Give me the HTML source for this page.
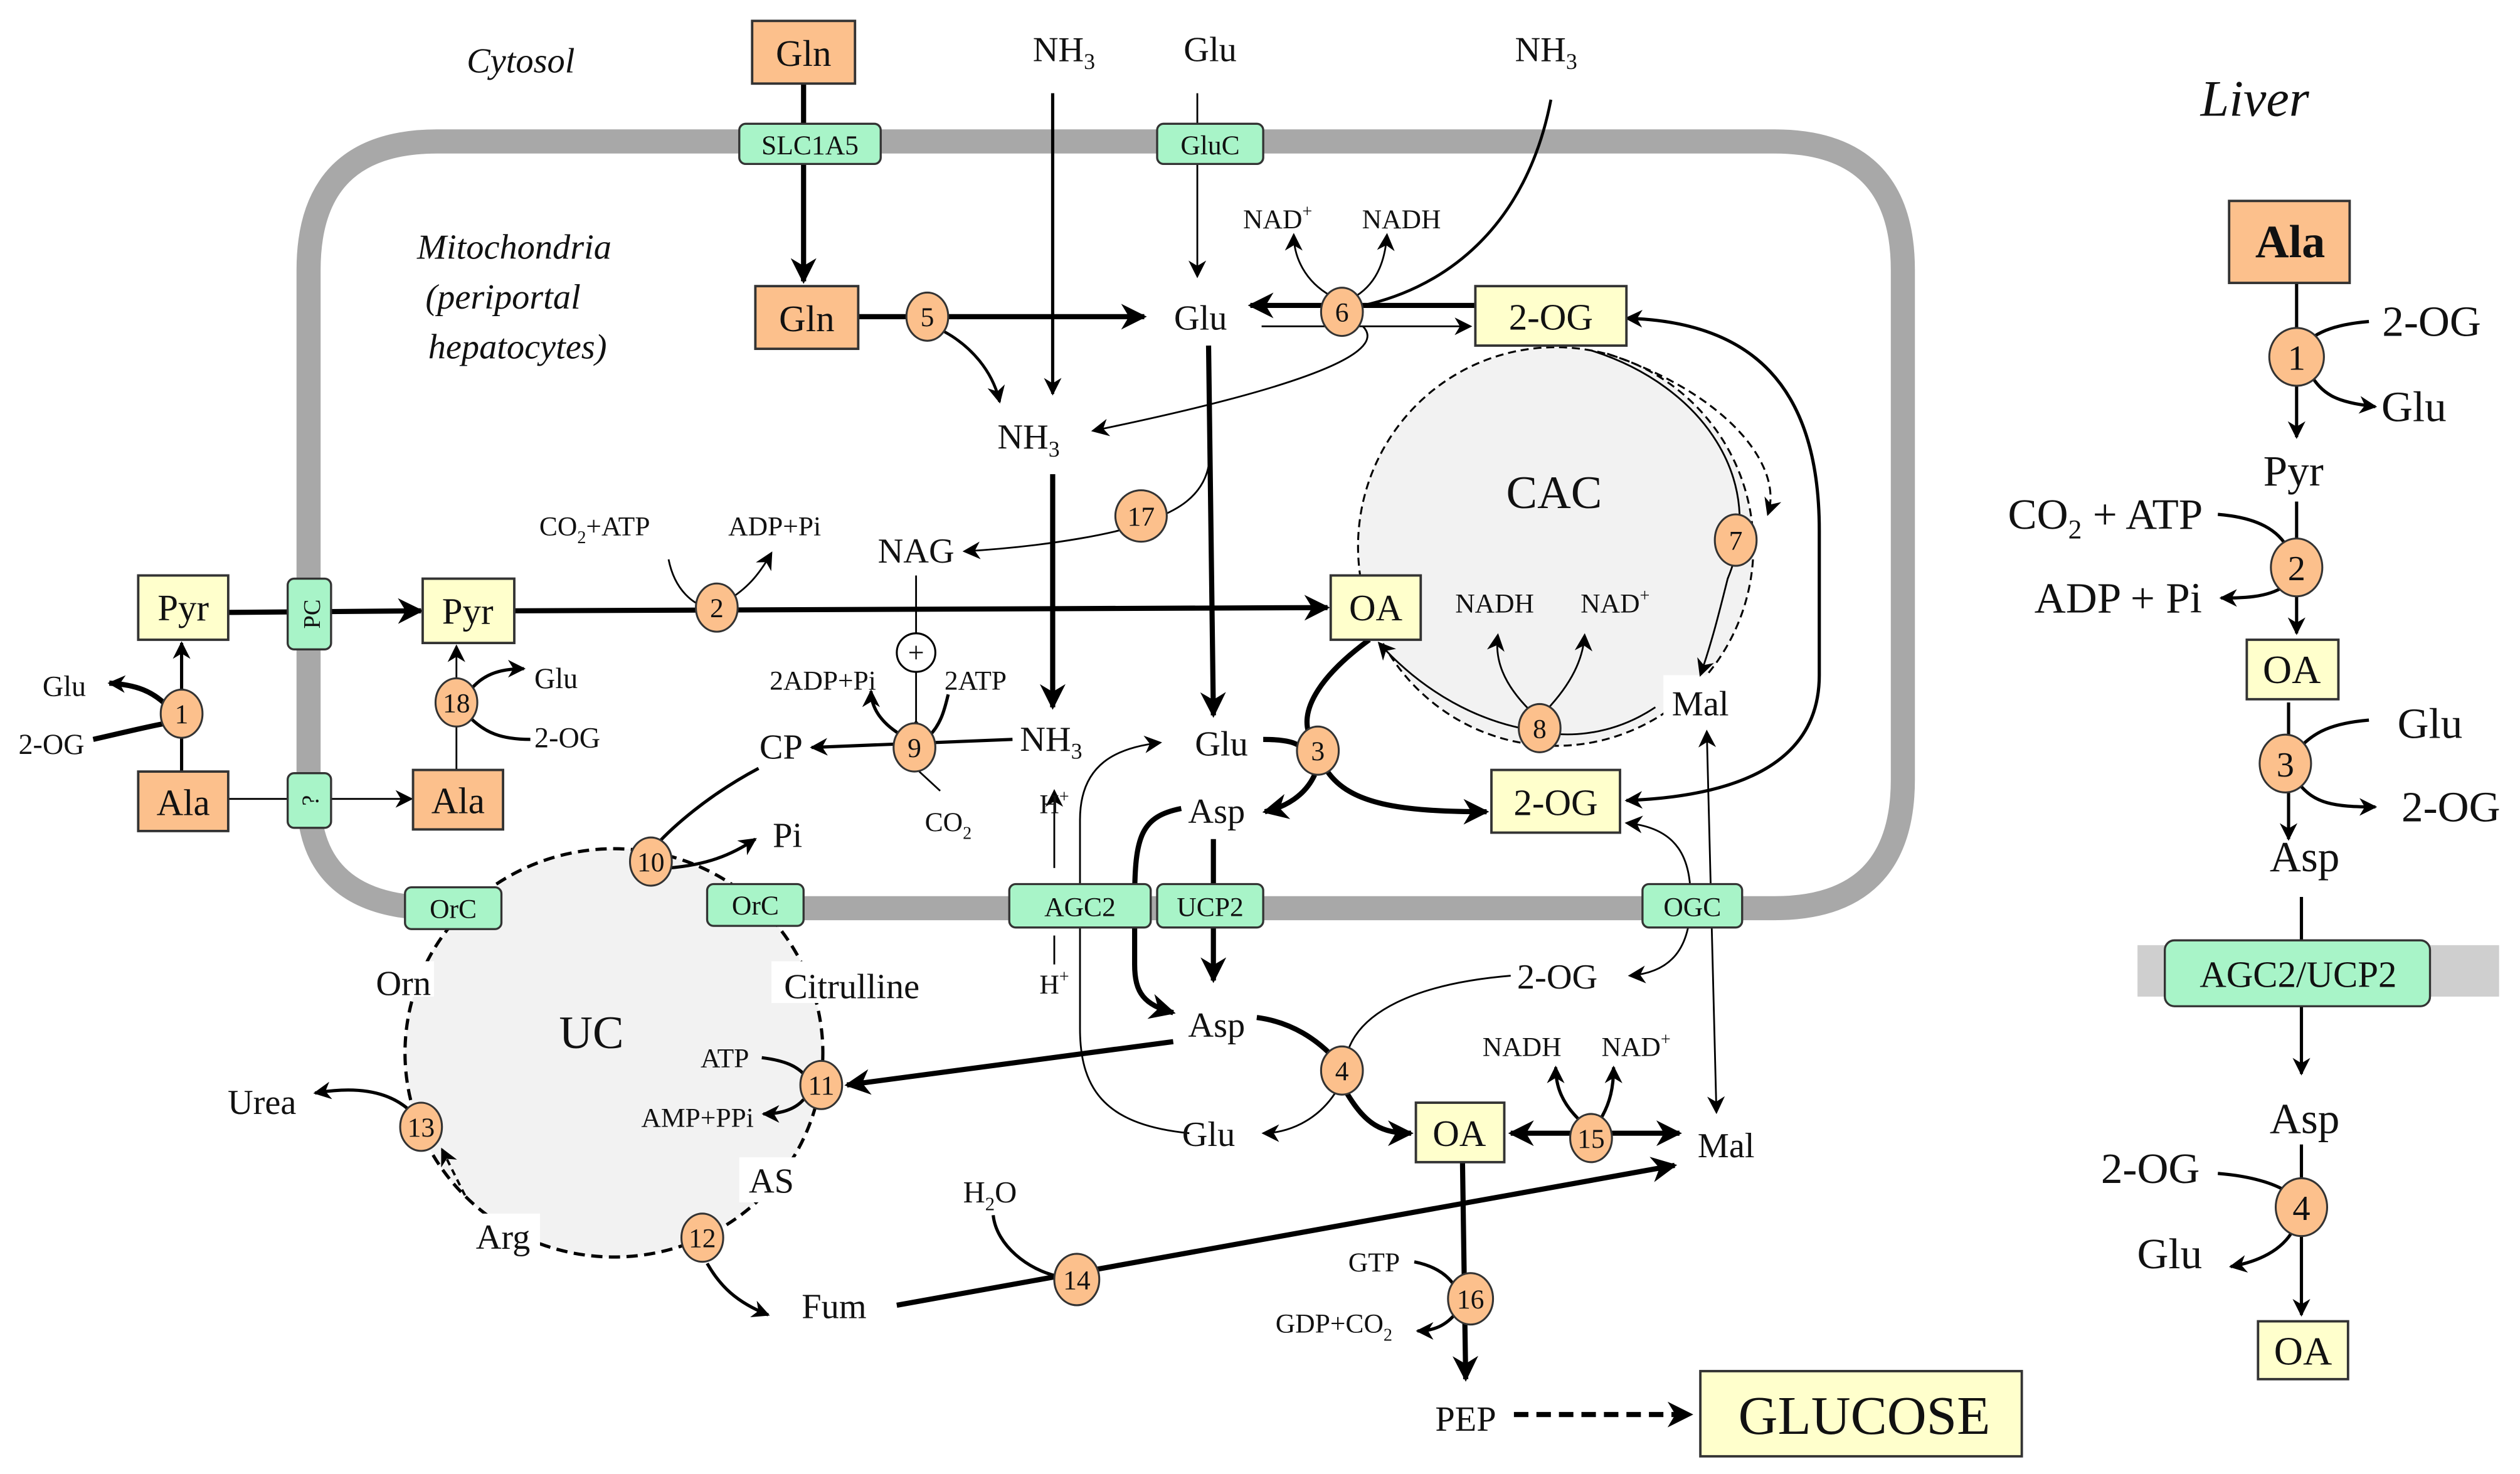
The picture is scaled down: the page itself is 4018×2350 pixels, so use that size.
<!DOCTYPE html>
<html><head><meta charset="utf-8">
<style>
html,body{margin:0;padding:0;background:#fff}
svg{display:block}
text{font-family:"Liberation Serif",serif;fill:#111}
.b{fill:#fcc08c;stroke:#333;stroke-width:1.5}
.y{fill:#ffffcc;stroke:#333;stroke-width:1.5}
.g{fill:#a8f4c8;stroke:#333;stroke-width:1.3}
.c{fill:#fcc08c;stroke:#333;stroke-width:1.2}
.k{fill:none;stroke:#000;stroke-width:3.2}
.m{fill:none;stroke:#000;stroke-width:2}
.n{fill:none;stroke:#000;stroke-width:1.1}
</style></head><body>
<svg width="4018" height="2350" viewBox="0 0 1568 917" preserveAspectRatio="none" xmlns="http://www.w3.org/2000/svg">
<defs>
<marker id="a" markerUnits="userSpaceOnUse" markerWidth="16" markerHeight="16" viewBox="0 0 10 10" refX="9" refY="5" orient="auto-start-reverse"><path d="M0,0 L10,5 L0,10 L3,5z" fill="#000"/></marker>
<marker id="t" markerUnits="userSpaceOnUse" markerWidth="11" markerHeight="11" viewBox="0 0 10 10" refX="9" refY="5" orient="auto-start-reverse"><path d="M0,0 L10,5 L0,10 L3,5z" fill="#000"/></marker>
</defs>

<!-- membrane -->
<path d="M192,495 L192,168 Q192,88 272,88 L1104,88 Q1184,88 1184,168 L1184,485 Q1184,565 1104,565 L272,565 Q192,565 192,495" fill="none" stroke="#a8a8a8" stroke-width="15"/>
<rect x="1330" y="588" width="225" height="32" fill="#cfcfcf"/>

<!-- cycles -->
<ellipse cx="968" cy="340" rx="123" ry="124" fill="#f2f2f2" stroke="#000" stroke-width="1.2" stroke-dasharray="5,3"/>
<ellipse cx="382" cy="655" rx="130" ry="127" fill="#f2f2f2" stroke="#000" stroke-width="2" stroke-dasharray="7,4"/>
<rect x="230" y="598" width="40" height="22" fill="#fff"/>
<rect x="480" y="598" width="100" height="26" fill="#fff"/>
<rect x="460" y="720" width="40" height="28" fill="#fff"/>
<rect x="292" y="755" width="44" height="28" fill="#fff"/>
<rect x="1035" y="420" width="50" height="32" fill="#fff"/>

<!-- CAC inner arcs -->
<path d="M990,218 C1060,240 1100,300 1075,360 C1070,380 1065,400 1058,420" class="n" marker-end="url(#t)"/>
<path d="M1000,220 C1075,245 1110,290 1100,320" fill="none" stroke="#000" stroke-width="1.2" stroke-dasharray="5,3" marker-end="url(#t)"/>
<path d="M1030,440 C1000,460 970,458 958,455 C920,450 885,430 858,400" class="n" marker-end="url(#t)"/>
<path d="M952,442 C935,425 930,410 932,395" class="n" marker-end="url(#t)"/>
<path d="M962,442 C978,425 985,410 986,395" class="n" marker-end="url(#t)"/>

<!-- top -->
<path d="M500,52 L500,175" class="k" marker-end="url(#a)"/>
<path d="M655,58 L655,245" class="m" marker-end="url(#t)"/>
<path d="M745,58 L745,172" class="n" marker-end="url(#t)"/>
<path d="M965,62 C950,140 900,182 838,192" fill="none" stroke="#000" stroke-width="1.8"/>
<path d="M918,190 L778,190" class="k" marker-end="url(#a)"/>
<path d="M785,203 L915,203" class="n" marker-end="url(#t)"/>
<path d="M828,184 C812,175 805,160 805,146" class="n" marker-end="url(#t)"/>
<path d="M844,184 C858,175 862,160 863,146" class="n" marker-end="url(#t)"/>
<path d="M848,203 C860,215 840,235 680,268" class="n" marker-end="url(#t)"/>
<path d="M534,197 L712,197" class="k" marker-end="url(#a)"/>
<path d="M585,205 C605,215 618,232 622,250" fill="none" stroke="#000" stroke-width="1.8" marker-end="url(#t)"/>
<path d="M655,295 L655,440" class="k" marker-end="url(#a)"/>
<path d="M752,215 L755,445" class="k" marker-end="url(#a)"/>
<path d="M752,290 C748,310 730,318 720,322 C700,332 650,340 600,343" class="n" marker-end="url(#t)"/>
<path d="M570,358 L570,394 M570,418 L570,452" class="n"/>
<circle cx="570" cy="406" r="12" fill="#fff" stroke="#000" stroke-width="1.2"/>
<text x="570" y="412" font-size="18" text-anchor="middle">+</text>
<path d="M564,455 L570,448 L576,455 L570,462z" fill="#000"/>

<!-- Pyr row -->
<path d="M142,381 L262,380" class="k" marker-end="url(#a)"/>
<path d="M320,380 L826,378" class="k" marker-end="url(#a)"/>
<path d="M416,348 C420,368 432,376 440,378" class="n"/>
<path d="M452,374 C465,366 472,358 480,344" class="n" marker-end="url(#t)"/>
<path d="M113,480 L113,400" class="m" marker-end="url(#t)"/>
<path d="M105,440 C95,430 85,426 68,425" class="k" marker-end="url(#t)"/>
<path d="M58,460 C80,455 92,452 103,450" class="k"/>
<path d="M142,497 L256,497" class="n" marker-end="url(#t)"/>
<path d="M284,479 L284,402" class="n" marker-end="url(#t)"/>
<path d="M292,430 C300,420 310,416 326,416" class="m" marker-end="url(#t)"/>
<path d="M292,446 C302,456 312,460 330,460" class="m"/>

<!-- 9 -->
<path d="M630,460 L505,465" class="m" marker-end="url(#t)"/>
<path d="M562,458 C548,450 542,440 542,430" class="m" marker-end="url(#t)"/>
<path d="M578,458 C586,450 588,440 590,432" class="m"/>
<path d="M572,480 L585,492" class="n"/>
<path d="M472,478 C440,495 418,515 408,526" class="m"/>
<path d="M416,540 C440,538 455,532 470,522" class="m" marker-end="url(#t)"/>

<!-- H+ / AGC2 -->
<path d="M656,540 L656,492" class="n" marker-end="url(#t)"/>
<path d="M656,582 L656,600" class="n"/>
<path d="M740,705 C690,700 672,680 672,640 L672,510 C672,475 695,465 722,462" class="n" marker-end="url(#t)"/>
<path d="M735,503 C710,508 706,520 706,560 L706,600 C706,618 712,625 730,630" class="k" marker-end="url(#a)"/>
<path d="M755,522 L755,610" class="k" marker-end="url(#a)"/>

<!-- 3 -->
<path d="M786,460 C800,460 808,462 810,466" class="k"/>
<path d="M826,480 C840,500 870,505 925,505" class="k" marker-end="url(#a)"/>
<path d="M818,482 C812,495 800,502 787,505" class="k" marker-end="url(#a)"/>
<path d="M852,398 C822,420 810,440 814,455" class="k"/>
<path d="M1012,198 C1090,200 1132,240 1132,330 L1132,420 C1132,470 1090,495 1012,498" class="m" marker-start="url(#t)" marker-end="url(#t)"/>
<path d="M1062,455 L1068,692" class="n" marker-start="url(#t)" marker-end="url(#t)"/>
<path d="M1012,512 C1045,515 1052,535 1052,560 C1052,590 1040,605 1014,607" class="n" marker-start="url(#t)" marker-end="url(#t)"/>

<!-- 4 -->
<path d="M940,607 C880,612 845,630 838,656" class="n"/>
<path d="M832,678 C820,698 800,705 786,705" class="n" marker-end="url(#t)"/>
<path d="M782,633 C805,636 820,648 828,656" class="k"/>
<path d="M838,680 C850,700 860,705 878,705" class="k" marker-end="url(#a)"/>
<path d="M730,648 L527,675" class="k" marker-end="url(#a)"/>
<path d="M474,658 C490,660 496,664 500,668" class="m"/>
<path d="M500,684 C495,690 486,693 475,693" class="m" marker-end="url(#t)"/>

<!-- 15 -->
<path d="M940,705 L1045,705" class="k" marker-start="url(#a)" marker-end="url(#a)"/>
<path d="M982,696 C972,686 968,676 968,664" class="m" marker-end="url(#t)"/>
<path d="M996,696 C1002,686 1004,676 1004,664" class="m" marker-end="url(#t)"/>

<!-- 14, 12, 13 -->
<path d="M558,812 L1042,725" class="k" marker-end="url(#a)"/>
<path d="M618,756 C620,775 640,790 658,794" class="m"/>
<path d="M440,786 C448,800 458,810 478,818" class="m" marker-end="url(#t)"/>
<path d="M254,690 C240,678 220,676 196,680" class="m" marker-end="url(#t)"/>
<path d="M275,715 L290,745" fill="none" stroke="#000" stroke-width="1.5" stroke-dasharray="4,3" marker-start="url(#t)"/>

<!-- 16 -->
<path d="M910,723 L912,858" class="k" marker-end="url(#a)"/>
<path d="M880,785 C895,788 902,795 905,800" class="m"/>
<path d="M905,818 C898,826 890,828 882,828" class="m" marker-end="url(#t)"/>
<path d="M942,880 L1052,880" fill="none" stroke="#000" stroke-width="3.2" stroke-dasharray="9,5" marker-end="url(#a)"/>

<!-- liver -->
<path d="M1429,176 L1429,272" class="m" marker-end="url(#t)"/>
<path d="M1474,200 C1450,202 1440,208 1434,214" class="m"/>
<path d="M1437,232 C1445,245 1452,250 1478,253" class="m" marker-end="url(#t)"/>
<path d="M1429,312 L1429,394" class="m" marker-end="url(#t)"/>
<path d="M1380,320 C1405,322 1418,330 1424,342" class="m"/>
<path d="M1421,365 C1410,372 1395,372 1382,372" class="m" marker-end="url(#t)"/>
<path d="M1424,437 L1424,522" class="m" marker-end="url(#t)"/>
<path d="M1474,448 C1450,450 1440,456 1432,464" class="m"/>
<path d="M1430,487 C1440,500 1452,502 1478,502" class="m" marker-end="url(#t)"/>
<path d="M1432,558 L1432,668" class="m" marker-end="url(#t)"/>
<path d="M1432,712 L1432,818" class="m" marker-end="url(#t)"/>
<path d="M1380,730 C1405,732 1418,738 1424,742" class="m"/>
<path d="M1427,765 C1420,778 1405,785 1388,788" class="m" marker-end="url(#t)"/>

<!-- transporters -->
<rect x="460" y="77" width="88" height="25" rx="4" class="g"/><text x="504" y="96" font-size="17" text-anchor="middle">SLC1A5</text>
<rect x="720" y="77" width="66" height="25" rx="4" class="g"/><text x="753" y="96" font-size="17" text-anchor="middle">GluC</text>
<rect x="179" y="360" width="27" height="44" rx="4" class="g"/><text transform="translate(199,382) rotate(-90)" font-size="15" text-anchor="middle">PC</text>
<rect x="179" y="481" width="27" height="34" rx="4" class="g"/><text transform="translate(198,498) rotate(-90)" font-size="15" text-anchor="middle">?</text>
<rect x="252" y="552" width="60" height="26" rx="4" class="g"/><text x="282" y="571" font-size="17" text-anchor="middle">OrC</text>
<rect x="440" y="550" width="60" height="26" rx="4" class="g"/><text x="470" y="569" font-size="17" text-anchor="middle">OrC</text>
<rect x="628" y="550" width="88" height="27" rx="4" class="g"/><text x="672" y="570" font-size="17" text-anchor="middle">AGC2</text>
<rect x="720" y="550" width="66" height="27" rx="4" class="g"/><text x="753" y="570" font-size="17" text-anchor="middle">UCP2</text>
<rect x="1022" y="550" width="62" height="27" rx="4" class="g"/><text x="1053" y="570" font-size="17" text-anchor="middle">OGC</text>
<rect x="1347" y="585" width="165" height="41" rx="6" class="g"/><text x="1430" y="614" font-size="23" text-anchor="middle">AGC2/UCP2</text>

<!-- boxes -->
<rect x="468" y="13" width="64" height="39" class="b"/><text x="500" y="41" font-size="23" text-anchor="middle">Gln</text>
<rect x="470" y="178" width="64" height="39" class="b"/><text x="502" y="206" font-size="23" text-anchor="middle">Gln</text>
<rect x="86" y="480" width="56" height="37" class="b"/><text x="114" y="507" font-size="23" text-anchor="middle">Ala</text>
<rect x="257" y="479" width="56" height="37" class="b"/><text x="285" y="506" font-size="23" text-anchor="middle">Ala</text>
<rect x="1387" y="125" width="75" height="51" class="b"/><text x="1425" y="160" font-size="29" font-weight="bold" text-anchor="middle">Ala</text>
<rect x="86" y="358" width="56" height="40" class="y"/><text x="114" y="386" font-size="23" text-anchor="middle">Pyr</text>
<rect x="263" y="360" width="57" height="40" class="y"/><text x="291" y="388" font-size="23" text-anchor="middle">Pyr</text>
<rect x="828" y="358" width="56" height="40" class="y"/><text x="856" y="386" font-size="23" text-anchor="middle">OA</text>
<rect x="918" y="178" width="94" height="37" class="y"/><text x="965" y="205" font-size="23" text-anchor="middle">2-OG</text>
<rect x="928" y="479" width="80" height="39" class="y"/><text x="968" y="507" font-size="23" text-anchor="middle">2-OG</text>
<rect x="881" y="686" width="55" height="37" class="y"/><text x="908" y="713" font-size="23" text-anchor="middle">OA</text>
<rect x="1058" y="853" width="200" height="53" class="y"/><text x="1160" y="892" font-size="34" text-anchor="middle">GLUCOSE</text>
<rect x="1398" y="398" width="57" height="37" class="y"/><text x="1426" y="425" font-size="25" text-anchor="middle">OA</text>
<rect x="1405" y="822" width="56" height="36" class="y"/><text x="1433" y="849" font-size="25" text-anchor="middle">OA</text>

<!-- numbered circles -->
<g font-size="17" text-anchor="middle">
<ellipse cx="113" cy="444" rx="13" ry="15" class="c"/><text x="113" y="450">1</text>
<ellipse cx="284" cy="437" rx="13" ry="15" class="c"/><text x="284" y="443">18</text>
<ellipse cx="446" cy="378" rx="13" ry="15" class="c"/><text x="446" y="384">2</text>
<ellipse cx="577" cy="197" rx="13" ry="15" class="c"/><text x="577" y="203">5</text>
<ellipse cx="835" cy="194" rx="13" ry="15" class="c"/><text x="835" y="200">6</text>
<ellipse cx="710" cy="321" rx="16" ry="16" class="c"/><text x="710" y="327">17</text>
<ellipse cx="1080" cy="336" rx="13" ry="16" class="c"/><text x="1080" y="342">7</text>
<ellipse cx="958" cy="453" rx="13" ry="15" class="c"/><text x="958" y="459">8</text>
<ellipse cx="820" cy="467" rx="13" ry="15" class="c"/><text x="820" y="473">3</text>
<ellipse cx="569" cy="465" rx="13" ry="15" class="c"/><text x="569" y="471">9</text>
<ellipse cx="405" cy="536" rx="13" ry="15" class="c"/><text x="405" y="542">10</text>
<ellipse cx="511" cy="675" rx="13" ry="15" class="c"/><text x="511" y="681">11</text>
<ellipse cx="262" cy="701" rx="13" ry="15" class="c"/><text x="262" y="707">13</text>
<ellipse cx="437" cy="770" rx="13" ry="15" class="c"/><text x="437" y="776">12</text>
<ellipse cx="670" cy="796" rx="14" ry="16" class="c"/><text x="670" y="802">14</text>
<ellipse cx="835" cy="666" rx="13" ry="15" class="c"/><text x="835" y="672">4</text>
<ellipse cx="990" cy="708" rx="13" ry="15" class="c"/><text x="990" y="714">15</text>
<ellipse cx="915" cy="808" rx="14" ry="16" class="c"/><text x="915" y="814">16</text>
</g>
<g font-size="22" text-anchor="middle">
<ellipse cx="1429" cy="222" rx="17" ry="18" class="c"/><text x="1429" y="230">1</text>
<ellipse cx="1429" cy="353" rx="16" ry="18" class="c"/><text x="1429" y="361">2</text>
<ellipse cx="1422" cy="475" rx="16" ry="18" class="c"/><text x="1422" y="483">3</text>
<ellipse cx="1432" cy="751" rx="16" ry="18" class="c"/><text x="1432" y="759">4</text>
</g>

<!-- labels -->
<g font-size="22" text-anchor="middle">
<text x="324" y="45" font-style="italic">Cytosol</text>
<text x="320" y="161" font-style="italic">Mitochondria</text>
<text x="313" y="192" font-style="italic">(periportal</text>
<text x="322" y="223" font-style="italic">hepatocytes)</text>
<text x="662" y="38">NH<tspan font-size="14" dy="5">3</tspan></text>
<text x="753" y="38">Glu</text>
<text x="962" y="38">NH<tspan font-size="14" dy="5">3</tspan></text>
<text x="747" y="205">Glu</text>
<text x="640" y="279">NH<tspan font-size="14" dy="5">3</tspan></text>
<text x="570" y="350">NAG</text>
<text x="654" y="467">NH<tspan font-size="14" dy="5">3</tspan></text>
<text x="760" y="470">Glu</text>
<text x="486" y="472">CP</text>
<text x="490" y="527">Pi</text>
<text x="757" y="512">Asp</text>
<text x="757" y="645">Asp</text>
<text x="969" y="615">2-OG</text>
<text x="752" y="713">Glu</text>
<text x="1058" y="445">Mal</text>
<text x="1074" y="720">Mal</text>
<text x="519" y="820">Fum</text>
<text x="912" y="890">PEP</text>
<text x="163" y="693">Urea</text>
<text x="530" y="621">Citrulline</text>
<text x="251" y="619">Orn</text>
<text x="480" y="742">AS</text>
<text x="313" y="777">Arg</text>
<text x="346" y="428" font-size="18">Glu</text>
<text x="353" y="465" font-size="18">2-OG</text>
<text x="40" y="433" font-size="18">Glu</text>
<text x="32" y="469" font-size="18">2-OG</text>
<text x="967" y="316" font-size="29">CAC</text>
<text x="368" y="652" font-size="29">UC</text>
<text x="1403" y="72" font-size="32" font-style="italic">Liver</text>
</g>
<g font-size="17" text-anchor="middle">
<text x="795" y="142">NAD<tspan font-size="11" dy="-7">+</tspan></text>
<text x="872" y="142">NADH</text>
<text x="370" y="333">CO<tspan font-size="11" dy="5">2</tspan><tspan dy="-5">+ATP</tspan></text>
<text x="482" y="333">ADP+Pi</text>
<text x="930" y="381">NADH</text>
<text x="1005" y="381">NAD<tspan font-size="11" dy="-7">+</tspan></text>
<text x="512" y="429">2ADP+Pi</text>
<text x="607" y="429">2ATP</text>
<text x="590" y="517">CO<tspan font-size="11" dy="5">2</tspan></text>
<text x="656" y="506">H<tspan font-size="11" dy="-7">+</tspan></text>
<text x="656" y="618">H<tspan font-size="11" dy="-7">+</tspan></text>
<text x="451" y="664">ATP</text>
<text x="434" y="701">AMP+PPi</text>
<text x="947" y="657">NADH</text>
<text x="1018" y="657">NAD<tspan font-size="11" dy="-7">+</tspan></text>
<text x="616" y="748" font-size="19">H<tspan font-size="12" dy="5">2</tspan><tspan dy="-5">O</tspan></text>
<text x="855" y="791">GTP</text>
<text x="830" y="829">GDP+CO<tspan font-size="11" dy="5">2</tspan></text>
</g>
<g font-size="27" text-anchor="middle">
<text x="1513" y="209">2-OG</text>
<text x="1502" y="262">Glu</text>
<text x="1427" y="302">Pyr</text>
<text x="1310" y="329">CO<tspan font-size="17" dy="6">2</tspan><tspan dy="-6"> + ATP</tspan></text>
<text x="1318" y="381">ADP + Pi</text>
<text x="1512" y="459">Glu</text>
<text x="1525" y="511">2-OG</text>
<text x="1434" y="542">Asp</text>
<text x="1434" y="705">Asp</text>
<text x="1338" y="736">2-OG</text>
<text x="1350" y="789">Glu</text>
</g>
</svg>
</body></html>
